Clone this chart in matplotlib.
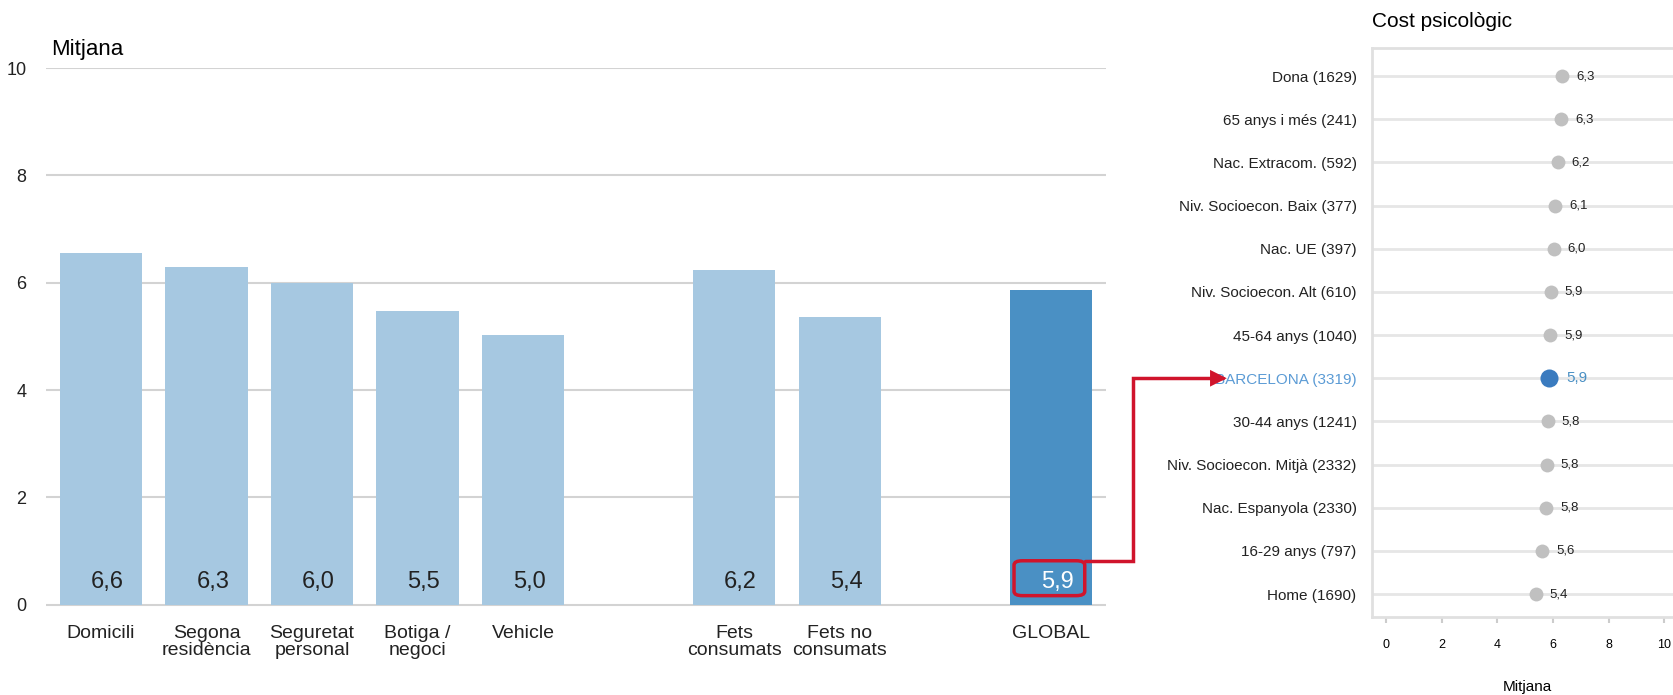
import numpy as np
import matplotlib.pyplot as plt
import matplotlib.transforms as mtransforms
from matplotlib.patches import FancyBboxPatch, FancyArrowPatch
from matplotlib.path import Path

plt.rcParams['font.family'] = ['Liberation Sans', 'DejaVu Sans']

# Left panel: mean by type of incident
categories = ['Domicili', 'Segona\nresidència', 'Seguretat\npersonal', 'Botiga /\nnegoci',
              'Vehicle', 'Fets\nconsumats', 'Fets no\nconsumats', 'GLOBAL']
groups = [0, 0, 0, 0, 0, 1, 1, 2]
means = [6.56, 6.30, 6.00, 5.48, 5.03, 6.24, 5.37, 5.87]

# Right panel: psychological cost by profile
profile_labels = ['Dona (1629)', '65 anys i més (241)', 'Nac. Extracom. (592)',
                  'Niv. Socioecon. Baix (377)', 'Nac. UE (397)', 'Niv. Socioecon. Alt (610)',
                  '45-64 anys (1040)', 'BARCELONA (3319)', '30-44 anys (1241)',
                  'Niv. Socioecon. Mitjà (2332)', 'Nac. Espanyola (2330)', '16-29 anys (797)',
                  'Home (1690)']
profile_means = [6.33, 6.30, 6.17, 6.08, 6.03, 5.93, 5.90, 5.87, 5.82, 5.78, 5.76, 5.62, 5.38]
highlight = 'BARCELONA (3319)'

light_blue = '#a6c8e1'
dark_blue = '#4a90c4'
red = '#d0142c'


def fmt(v):
    return f'{v:.1f}'.replace('.', ',')


fig = plt.figure(figsize=(16.73, 6.95), dpi=100)

# ---- bar chart
ax = fig.add_axes([0.0275, 0.1252, 0.6335, 0.7768])
x = np.arange(len(categories)) + np.array(groups)
colors = [dark_blue if g == 2 else light_blue for g in groups]
ax.bar(x, means, width=0.78, color=colors, zorder=2)
ax.set_xlim(-0.52, 9.52)
ax.set_ylim(-0.06, 10)
ax.set_yticks(range(0, 11, 2))
ax.grid(axis='y', color='#d3d3d3', lw=1.5)
ax.set_axisbelow(True)
for s in ax.spines.values():
    s.set_visible(False)
ax.tick_params(axis='both', length=0)
ax.tick_params(axis='y', pad=14, labelsize=13, labelcolor='#222222')
ax.set_xticks(x, categories, fontsize=14, linespacing=1.05, color='#222222')
ax.tick_params(axis='x', pad=12)

for xi, v, g in zip(x, means, groups):
    ax.text(xi + 0.06, 0.42, fmt(v), ha='center', va='center', fontsize=17,
            color='white' if g == 2 else '#222222', zorder=3)

ax.annotate('Mitjana', xy=(0, 1), xycoords='axes fraction', xytext=(4, 6),
            textcoords='offset points', ha='left', va='bottom', fontsize=16)

gx = x[-1]
box = FancyBboxPatch((gx - 0.35, 0.17), 0.67, 0.65,
                     boxstyle='round,pad=0,rounding_size=0.08',
                     fill=False, ec=red, lw=2.5, zorder=4)
ax.add_patch(box)

# ---- dot chart
ax2 = fig.add_axes([0.820, 0.1122, 0.1865, 0.8188])
yy = np.arange(len(profile_labels))
ax2.set_xlim(-0.5, 10.7)
ax2.set_ylim(len(profile_labels) - 0.47, -0.65)
ax2.set_yticks(yy, profile_labels)
ax2.grid(axis='y', color='#e6e6e6', lw=2)
ax2.set_axisbelow(True)
for lab, v, yi in zip(profile_labels, profile_means, yy):
    hl = lab == highlight
    ax2.scatter(v, yi, s=(13 if hl else 10) ** 2, color='#3a7bbf' if hl else '#c0c0c0',
                zorder=3, linewidths=0)
    ax2.annotate(fmt(v), (v, yi), xytext=(12 if hl else 10, 0), textcoords='offset points',
                 va='center', ha='left', fontsize=11 if hl else 9.5,
                 color='#4a90c4' if hl else '#222222')
ax2.tick_params(axis='y', length=0, pad=11, labelsize=11, labelcolor='#222222')
for t in ax2.get_yticklabels():
    if t.get_text() == highlight:
        t.set_color('#5b9bd5')
ax2.set_xticks(range(0, 11, 2))
ax2.tick_params(axis='x', length=4, width=1.5, color='#cccccc', labelsize=9, pad=12)
for s in ax2.spines.values():
    s.set_color('#e0e0e0')
    s.set_linewidth(2)
ax2.set_xlabel('Mitjana', fontsize=11, labelpad=21)
ax2.set_title('Cost psicològic', loc='left', fontsize=15, pad=15)

# ---- red elbow arrow from the global bar to the Barcelona row
bcn = profile_labels.index(highlight)
row_tr = mtransforms.blended_transform_factory(ax2.transAxes, ax2.transData)
p0 = ax.transData.transform((gx + 0.32, 0.81))
p3 = row_tr.transform((-0.465, bcn))
elbow_x = ax.transData.transform((gx + 0.78, 0))[0]
verts = [p0, (elbow_x, p0[1]), (elbow_x, p3[1]), p3]
arrow = FancyArrowPatch(path=Path(verts), arrowstyle='-|>', mutation_scale=20,
                        color=red, lw=2.5, joinstyle='miter',
                        transform=mtransforms.IdentityTransform(), zorder=10)
fig.add_artist(arrow)

fig.savefig('out.png', dpi=100)
